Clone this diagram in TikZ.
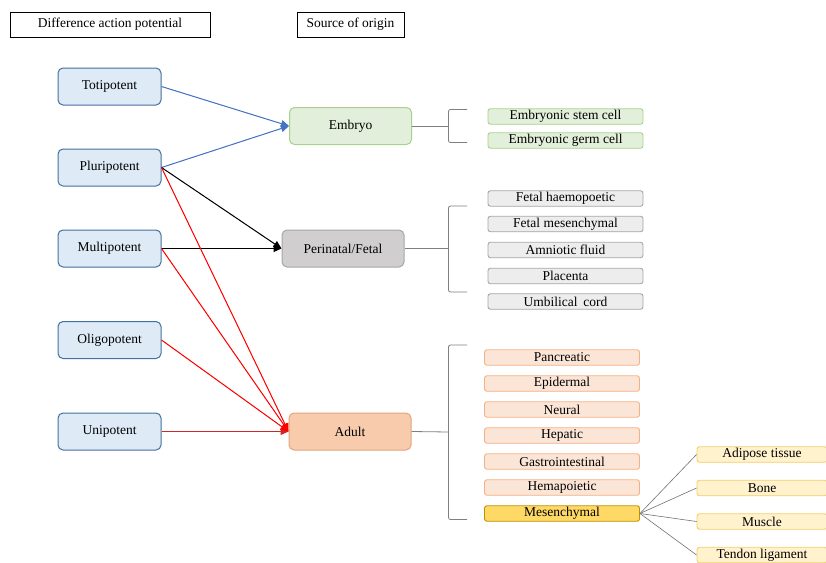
\documentclass[tikz,border=0pt]{standalone}
\usepackage{fontspec}
\setmainfont{Liberation Serif}
\usetikzlibrary{arrows.meta}
\definecolor{leftfill}{HTML}{DEEBF7}
\definecolor{leftdraw}{HTML}{41719C}
\definecolor{embfill}{HTML}{E2EFDA}
\definecolor{embdraw}{HTML}{A9D18E}
\definecolor{perifill}{HTML}{D0CECE}
\definecolor{peridraw}{HTML}{A6A6A6}
\definecolor{adfill}{HTML}{F8CBAD}
\definecolor{addraw}{HTML}{E3A47E}
\definecolor{fetfill}{HTML}{EDEDED}
\definecolor{fetdraw}{HTML}{A6A6A6}
\definecolor{adsubfill}{HTML}{FBE5D6}
\definecolor{adsubdraw}{HTML}{F4B183}
\definecolor{mesfill}{HTML}{FFD966}
\definecolor{mesdraw}{HTML}{BF9000}
\definecolor{mssubfill}{HTML}{FFF2CC}
\definecolor{mssubdraw}{HTML}{F2CF6B}
\definecolor{arblue}{HTML}{4472C4}
\definecolor{arred}{HTML}{FF0000}
\definecolor{unired}{HTML}{D02828}
\definecolor{brk}{HTML}{7F7F7F}
\tikzset{
  txt/.style={font=\rmfamily\fontsize{13.5}{15}\selectfont, inner sep=0pt, align=center},
  header/.style={txt, draw=black, line width=0.9pt, minimum height=25pt},
  leftbox/.style={txt, draw=leftdraw, fill=leftfill, line width=1pt, rounded corners=5pt, minimum width=103pt, minimum height=37pt},
  midbox/.style={txt, line width=1pt, rounded corners=5pt, minimum width=122pt, minimum height=37pt},
  subbox/.style={txt, line width=0.9pt, rounded corners=2.5pt, minimum width=155pt, minimum height=15.5pt},
  mssub/.style={txt, draw=mssubdraw, fill=mssubfill, line width=0.9pt, rounded corners=2.5pt, minimum width=130pt, minimum height=15.5pt},
  arr/.style={line width=1pt, -{Triangle[length=8pt,width=7pt]}},
  brkline/.style={draw=brk, line width=0.8pt},
  thin/.style={draw=brk!90!black, line width=0.6pt}
}
\begin{document}
\begin{tikzpicture}[x=1pt,y=-1pt]
\useasboundingbox (0,0) rectangle (826,562);
\clip (0,0) rectangle (826,562);
% headers
\node[header, minimum width=200pt] (h1) at (110,24.5) {Difference action potential};
\node[header, minimum width=107pt] (h2) at (350.5,24.5) {Source of origin};
% left boxes
\node[leftbox] (toti) at (109.5,86.5) {Totipotent};
\node[leftbox] (pluri) at (109.5,167.5) {Pluripotent};
\node[leftbox] (multi) at (109.5,248.5) {Multipotent};
\node[leftbox] (oligo) at (109.5,340) {Oligopotent};
\node[leftbox] (uni) at (109.5,431.5) {Unipotent};
% middle boxes
\node[midbox, draw=embdraw, fill=embfill] (emb) at (350.5,126) {Embryo};
\node[midbox, draw=peridraw, fill=perifill] (peri) at (343,248.5) {Perinatal/Fetal};
\node[midbox, draw=addraw, fill=adfill] (adult) at (350,431.5) {Adult};
% arrows
\draw[arr, draw=arblue, fill=arblue] (toti.east) -- (emb.west);
\draw[arr, draw=arblue, fill=arblue] (pluri.east) -- (emb.west);
\draw[arr, draw=black, fill=black] (pluri.east) -- (peri.west);
\draw[arr, draw=black, fill=black] (multi.east) -- (peri.west);
\draw[arr, draw=unired, fill=arred, line width=1.3pt] (uni.east) -- (adult.west);
\draw[arr, draw=arred, fill=arred] (pluri.east) -- (adult.west);
\draw[arr, draw=arred, fill=arred] (multi.east) -- (adult.west);
\draw[arr, draw=arred, fill=arred] (oligo.east) -- (adult.west);
% brackets
\coordinate (b1) at (448.5,126);
\coordinate (b2) at (448.5,248.5);
\coordinate (b3) at (448.5,432);
\draw[brkline] (emb.east) -- (b1);
\draw[brkline, rounded corners=2pt] (467,109.5) -- (448.5,109.5) -- (448.5,142.5) -- (467,142.5);
\draw[brkline] (peri.east) -- (b2);
\draw[brkline, rounded corners=2pt] (467,206) -- (448.5,206) -- (448.5,292) -- (467,292);
\draw[brkline] (adult.east) -- (b3);
\draw[brkline, rounded corners=2pt] (467,345) -- (448.5,345) -- (448.5,519.5) -- (467,519.5);
% embryo subs
\node[subbox, draw=embdraw, fill=embfill] (esc) at (565.5,116.5) {Embryonic stem cell};
\node[subbox, draw=embdraw, fill=embfill] (egc) at (565.5,140.5) {Embryonic germ cell};
% fetal subs
\node[subbox, draw=fetdraw, fill=fetfill] (f1) at (565.5,198.5) {Fetal haemopoetic};
\node[subbox, draw=fetdraw, fill=fetfill] (f2) at (565.5,224) {Fetal mesenchymal};
\node[subbox, draw=fetdraw, fill=fetfill] (f3) at (565.5,250) {Amniotic fluid};
\node[subbox, draw=fetdraw, fill=fetfill] (f4) at (565.5,276) {Placenta};
\node[subbox, draw=fetdraw, fill=fetfill] (f5) at (565.5,301.5) {Umbilical\, cord};
% adult subs
\node[subbox, draw=adsubdraw, fill=adsubfill] (a1) at (562,357.5) {Pancreatic};
\node[subbox, draw=adsubdraw, fill=adsubfill] (a2) at (562,383.5) {Epidermal};
\node[subbox, draw=adsubdraw, fill=adsubfill] (a3) at (562,409.5) {Neural};
\node[subbox, draw=adsubdraw, fill=adsubfill] (a4) at (562,435.5) {Hepatic};
\node[subbox, draw=adsubdraw, fill=adsubfill] (a5) at (562,461.5) {Gastrointestinal};
\node[subbox, draw=adsubdraw, fill=adsubfill] (a6) at (562,487.5) {Hemapoietic};
\node[subbox, draw=mesdraw, fill=mesfill] (mes) at (562,513.5) {Mesenchymal};
% mesenchymal subs
\node[mssub] (m1) at (762,454.5) {Adipose tissue};
\node[mssub] (m2) at (762,488) {Bone};
\node[mssub] (m3) at (762,521.5) {Muscle};
\node[mssub] (m4) at (762,555) {Tendon ligament};
\draw[thin] (mes.east) -- (m1.west);
\draw[thin] (mes.east) -- (m2.west);
\draw[thin] (mes.east) -- (m3.west);
\draw[thin] (mes.east) -- (m4.west);
\end{tikzpicture}
\end{document}
